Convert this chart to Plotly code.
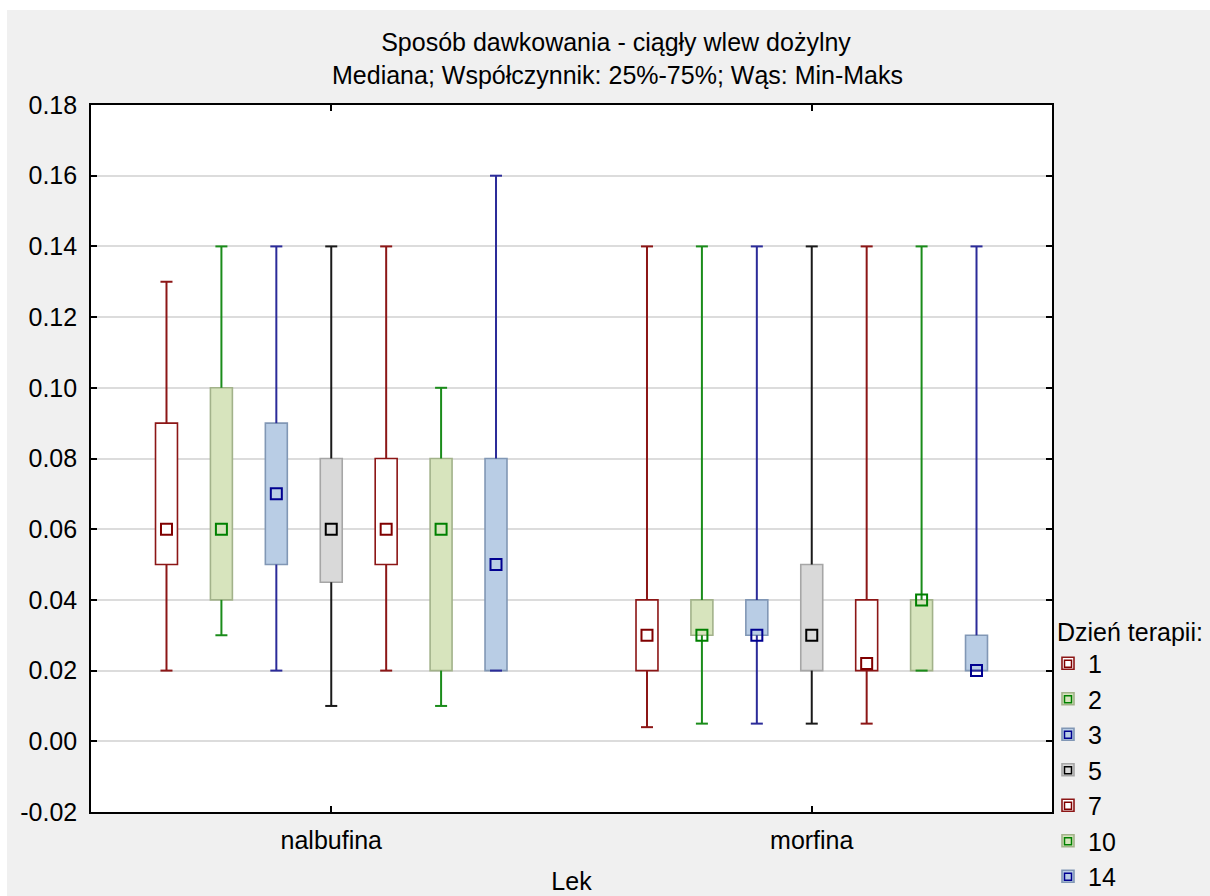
import plotly.graph_objects as go

# Drug groups on the x axis and therapy days (one box per day in each group)
drugs = ["nalbufina", "morfina"]
days = ["1", "2", "3", "5", "7", "10", "14"]

# nalbufina: min, lower quartile, median, upper quartile, max per day
nal_min = [0.02, 0.03, 0.02, 0.01, 0.02, 0.01, 0.02]
nal_q1 = [0.05, 0.04, 0.05, 0.045, 0.05, 0.02, 0.02]
nal_med = [0.06, 0.06, 0.07, 0.06, 0.06, 0.06, 0.05]
nal_q3 = [0.09, 0.10, 0.09, 0.08, 0.08, 0.08, 0.08]
nal_max = [0.13, 0.14, 0.14, 0.14, 0.14, 0.10, 0.16]

# morfina: min, lower quartile, median, upper quartile, max per day
mor_min = [0.004, 0.005, 0.005, 0.005, 0.005, 0.02, 0.02]
mor_q1 = [0.02, 0.03, 0.03, 0.02, 0.02, 0.02, 0.02]
mor_med = [0.03, 0.03, 0.03, 0.03, 0.022, 0.04, 0.02]
mor_q3 = [0.04, 0.04, 0.04, 0.05, 0.04, 0.04, 0.03]
mor_max = [0.14, 0.14, 0.14, 0.14, 0.14, 0.14, 0.14]

y_ticks = [-0.02, 0.00, 0.02, 0.04, 0.06, 0.08, 0.10, 0.12, 0.14, 0.16, 0.18]
y_tick_text = ["-0.02", "0.00", "0.02", "0.04", "0.06", "0.08", "0.10",
               "0.12", "0.14", "0.16", "0.18"]

# Per-day styling
box_fill = ["#ffffff", "#d7e4bd", "#b9cde5", "#d9d9d9", "#ffffff", "#d7e4bd", "#b9cde5"]
box_edge = ["#8c1616", "#a2b28a", "#8197b5", "#a6a6a6", "#8c1616", "#a2b28a", "#8197b5"]
whisker_col = ["#8c1616", "#1a8c1a", "#2b2b99", "#1a1a1a", "#8c1616", "#1a8c1a", "#2b2b99"]
median_col = ["#800000", "#008000", "#000090", "#000000", "#800000", "#008000", "#000090"]

SLOT = 0.1143      # horizontal distance between neighbouring boxes (x units)
BOX_W = 0.0457     # box width (x units)
CAP = 0.0125       # half-width of whisker caps (x units)

FONT = "Arial, Liberation Sans, sans-serif"

fig = go.Figure()

stats = list(zip(
    zip(nal_min, mor_min), zip(nal_q1, mor_q1), zip(nal_med, mor_med),
    zip(nal_q3, mor_q3), zip(nal_max, mor_max)))

for i, day in enumerate(days):
    mins, q1s, meds, q3s, maxs = stats[i]
    xs = [j + (i - 3) * SLOT for j in range(len(drugs))]

    # interquartile box
    fig.add_trace(go.Bar(
        x=xs, base=list(q1s), y=[b - a for a, b in zip(q1s, q3s)],
        width=BOX_W, name=day, legendgroup=day,
        marker=dict(color=box_fill[i], line=dict(color=box_edge[i], width=1.6)),
        hoverinfo="skip",
    ))

    # whiskers with caps
    wx, wy = [], []
    for x, lo, a, b, hi in zip(xs, mins, q1s, q3s, maxs):
        wx += [x, x, None, x, x, None, x - CAP, x + CAP, None, x - CAP, x + CAP, None]
        wy += [lo, a, None, b, hi, None, lo, lo, None, hi, hi, None]
    fig.add_trace(go.Scatter(
        x=wx, y=wy, mode="lines", legendgroup=day, showlegend=False,
        line=dict(color=whisker_col[i], width=2), hoverinfo="skip",
    ))

    # median marker
    fig.add_trace(go.Scatter(
        x=xs, y=list(meds), mode="markers", legendgroup=day, showlegend=False,
        marker=dict(symbol="square-open", size=11, color=median_col[i],
                    line=dict(width=2, color=median_col[i])),
    ))

# small median glyphs laid over the legend swatches
for i, day in enumerate(days):
    fig.add_trace(go.Scatter(
        x=[None], y=[None], mode="markers", name=" ", legend="legend2",
        legendgroup=day, showlegend=True,
        marker=dict(symbol="square-open", size=7, color=median_col[i],
                    line=dict(width=1.5, color=median_col[i])),
    ))

W, H = 1210, 896
ML, MR, MT, MB = 91, 158, 105, 84
PW, PH = W - ML - MR, H - MT - MB

legend_common = dict(
    bgcolor="rgba(0,0,0,0)", borderwidth=0, xanchor="left", yanchor="top",
    x=(1055 - ML) / PW, font=dict(size=25), tracegroupgap=0, indentation=-7,
)

fig.update_layout(
    width=W, height=H,
    margin=dict(l=ML, r=MR, t=MT, b=MB, pad=0, autoexpand=False),
    paper_bgcolor="#f0f0f0", plot_bgcolor="#ffffff",
    barmode="overlay",
    font=dict(family=FONT, size=25, color="#000000"),
    title=dict(text="Sposób dawkowania - ciągły wlew dożylny",
               x=616 / W, xref="container", xanchor="center",
               y=1 - 42 / H, yref="container", yanchor="middle",
               font=dict(size=25)),
    showlegend=True,
    legend=dict(
        title=dict(text="Dzień terapii:", font=dict(size=25)),
        y=(H - MB - 608) / PH, **legend_common,
    ),
    legend2=dict(
        y=(H - MB - 641) / PH, **legend_common,
    ),
    xaxis=dict(
        range=[-0.5, 1.5], tickvals=[0, 1], ticktext=drugs,
        showgrid=False, zeroline=False,
        showline=True, linecolor="#000000", linewidth=1.6, mirror="ticks",
        ticks="inside", ticklen=6, tickwidth=1.5, tickcolor="#000000",
        ticklabelstandoff=5,
        title=dict(text="Lek", standoff=20, font=dict(size=25)),
    ),
    yaxis=dict(
        range=[-0.02, 0.18], tickvals=y_ticks, ticktext=y_tick_text,
        showgrid=True, gridcolor="#dcdcdc", gridwidth=2, zeroline=False,
        showline=True, linecolor="#000000", linewidth=1.6, mirror="ticks",
        ticks="inside", ticklen=6, tickwidth=1.5, tickcolor="#000000",
        ticklabelstandoff=7,
    ),
    annotations=[dict(
        text="Mediana; Współczynnik: 25%-75%; Wąs: Min-Maks",
        xref="paper", yref="paper", x=(617 - ML) / PW, y=1 + (MT - 75) / PH,
        xanchor="center", yanchor="middle", showarrow=False,
        font=dict(size=25),
    )],
    shapes=[
        # thin white strips along the top and left edges
        dict(type="rect", xref="paper", yref="paper",
             x0=-ML / PW, x1=(W - ML) / PW, y0=1 + (MT - 10) / PH, y1=1 + MT / PH,
             fillcolor="#ffffff", line=dict(width=0), layer="above"),
        dict(type="rect", xref="paper", yref="paper",
             x0=-ML / PW, x1=(7 - ML) / PW, y0=-MB / PH, y1=1 + MT / PH,
             fillcolor="#ffffff", line=dict(width=0), layer="above"),
    ],
)

fig.write_html("out.html")
